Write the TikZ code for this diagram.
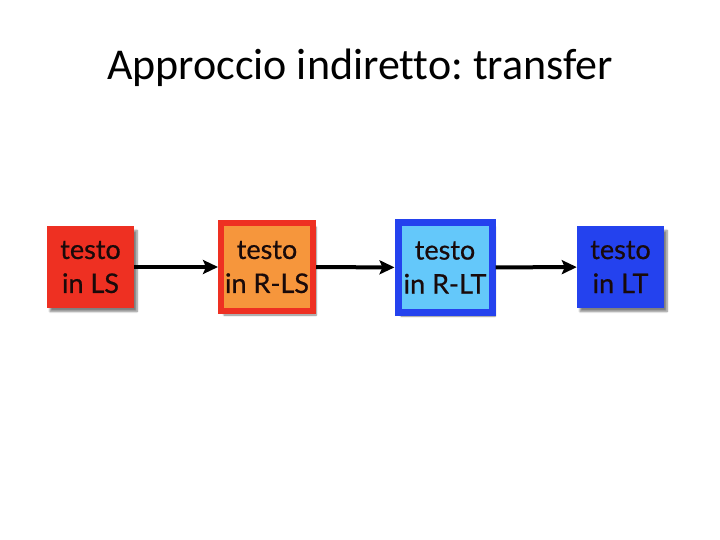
\documentclass[tikz,border=0pt]{standalone}
\usepackage{fontspec}
\setmainfont[Ligatures=NoCommon]{Carlito}
\newfontfamily\boxfont[FakeBold=0.6]{Lato}
\frenchspacing
\usetikzlibrary{arrows.meta,shadows.blur}
\definecolor{bred}{RGB}{238,48,34}
\definecolor{borange}{RGB}{246,150,60}
\definecolor{bblue}{RGB}{36,66,238}
\definecolor{blight}{RGB}{100,200,250}
\definecolor{tdark}{RGB}{25,10,10}
\tikzset{
  x=1pt,y=-1pt,
  boxstyle/.style={minimum width=#1,minimum height=81pt,inner sep=0pt,
    blur shadow={shadow xshift=3pt,shadow yshift=-4pt,shadow blur steps=6,shadow opacity=50},
    align=center,font=\boxfont\fontsize{27}{34}\selectfont,text=tdark},
  conn/.style={line width=4pt,-{Stealth[length=15pt,width=14pt,inset=3pt]}}
}
\begin{document}
\begin{tikzpicture}
\useasboundingbox (0,0) rectangle (720,540);
\node[font=\fontsize{44}{52}\selectfont,anchor=base] (title) at (360,80) {Approccio indiretto: transfer};
\node[boxstyle=87pt,fill=bred] (a) at (90.5,267) {testo\\in LS};
\node[boxstyle=92pt,minimum height=88pt,fill=borange,draw=bred,line width=6pt] (b) at (267,267) {testo\\in R-LS};
\node[boxstyle=94pt,minimum height=89pt,fill=blight,draw=bblue,line width=7pt] (c) at (445,267.5) {testo\\in R-LT};
\node[boxstyle=87pt,fill=bblue] (d) at (620.5,267) {testo\\in LT};
\draw[conn] (a) -- (b);
\draw[conn] (b) -- (c);
\draw[conn] (c) -- (d);
\end{tikzpicture}
\end{document}
